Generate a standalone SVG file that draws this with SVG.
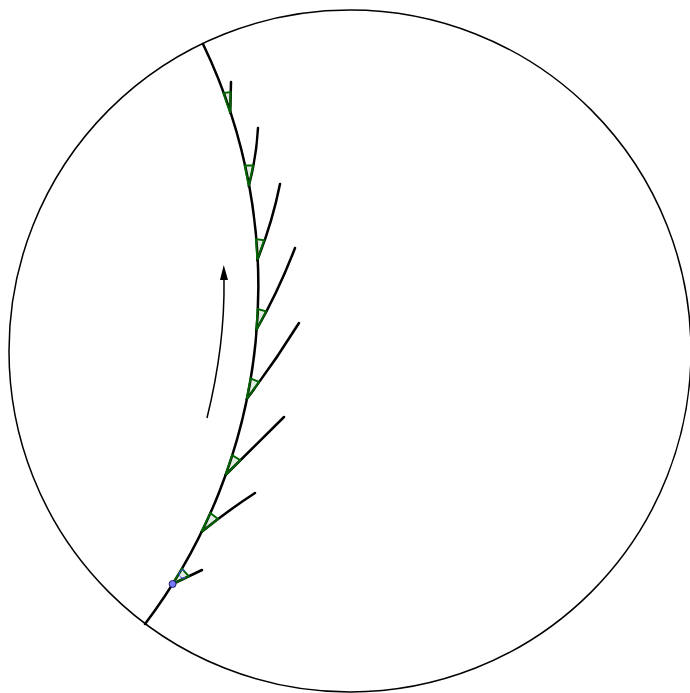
<svg xmlns="http://www.w3.org/2000/svg" width="690" height="693" viewBox="0 0 690 693">
<style>
.disk{fill:none;stroke:#000;stroke-width:1.5}
.geo{fill:none;stroke:#000;stroke-width:2.5;stroke-linecap:round}
.ang{fill:#006400;fill-opacity:0.12;stroke:#006400;stroke-width:1.9;stroke-linejoin:miter}
.arrow{fill:none;stroke:#000;stroke-width:1.5}
</style>
<defs>
<marker id="ah" viewBox="0 0 15 8" refX="0" refY="4" markerWidth="15" markerHeight="8" markerUnits="userSpaceOnUse" orient="auto">
<path d="M0,0 L15,4 L0,8 z" fill="#000"/>
</marker>
</defs>
<rect width="690" height="693" fill="#fff"/>
<g id="disk">
<circle class="disk" cx="350" cy="351" r="341"/>
</g>
<g id="connectors">
<path id="main-geodesic" class="geo" d="M203 44 A559 559 0 0 1 145 624"/>
<path class="geo" d="M230.2 113 L231 82"/>
<path class="geo" d="M248.8 186 Q256.4 157.5 258 128"/>
<path class="geo" d="M257.3 260 Q272.2 223 280 184"/>
<path class="geo" d="M256.3 330 Q278.8 290.5 295 248"/>
<path class="geo" d="M246.7 399 Q274.6 362.2 299 323"/>
<path class="geo" d="M225.5 475 L284 417"/>
<path class="geo" d="M201.4 532 Q227.2 511.1 255 493"/>
<path class="geo" d="M172.6 584 L202 570"/>
<path id="direction-arrow" class="arrow" d="M207 418 Q225 345 224 280" marker-end="url(#ah)"/>
</g>
<g id="angles">
<polygon class="ang" points="230.2,113 223.3,93.1 230.7,92"/>
<polygon class="ang" points="248.8,186 244.6,165.4 253.2,165.5"/>
<polygon class="ang" points="257.3,260 255.9,239 264.2,240.2"/>
<polygon class="ang" points="256.3,330 257.6,309 266.1,311.4"/>
<polygon class="ang" points="246.7,399 250.5,378.4 259,382"/>
<polygon class="ang" points="225.5,475 232.1,455.1 240.4,460.2"/>
<polygon class="ang" points="201.4,532 210.3,513 218,519.1"/>
<polygon class="ang" points="172.6,584 181.9,568.6 188.8,576.3"/>
</g>
<g id="point">
<path d="M185 570.5 A4 4 0 1 0 185 577.5" fill="none" stroke="#4d4dff" stroke-width="1"/>
<circle cx="172.6" cy="584" r="3.5" fill="#7a7aff" stroke="#1a1a66" stroke-width="1"/>
</g>
</svg>
